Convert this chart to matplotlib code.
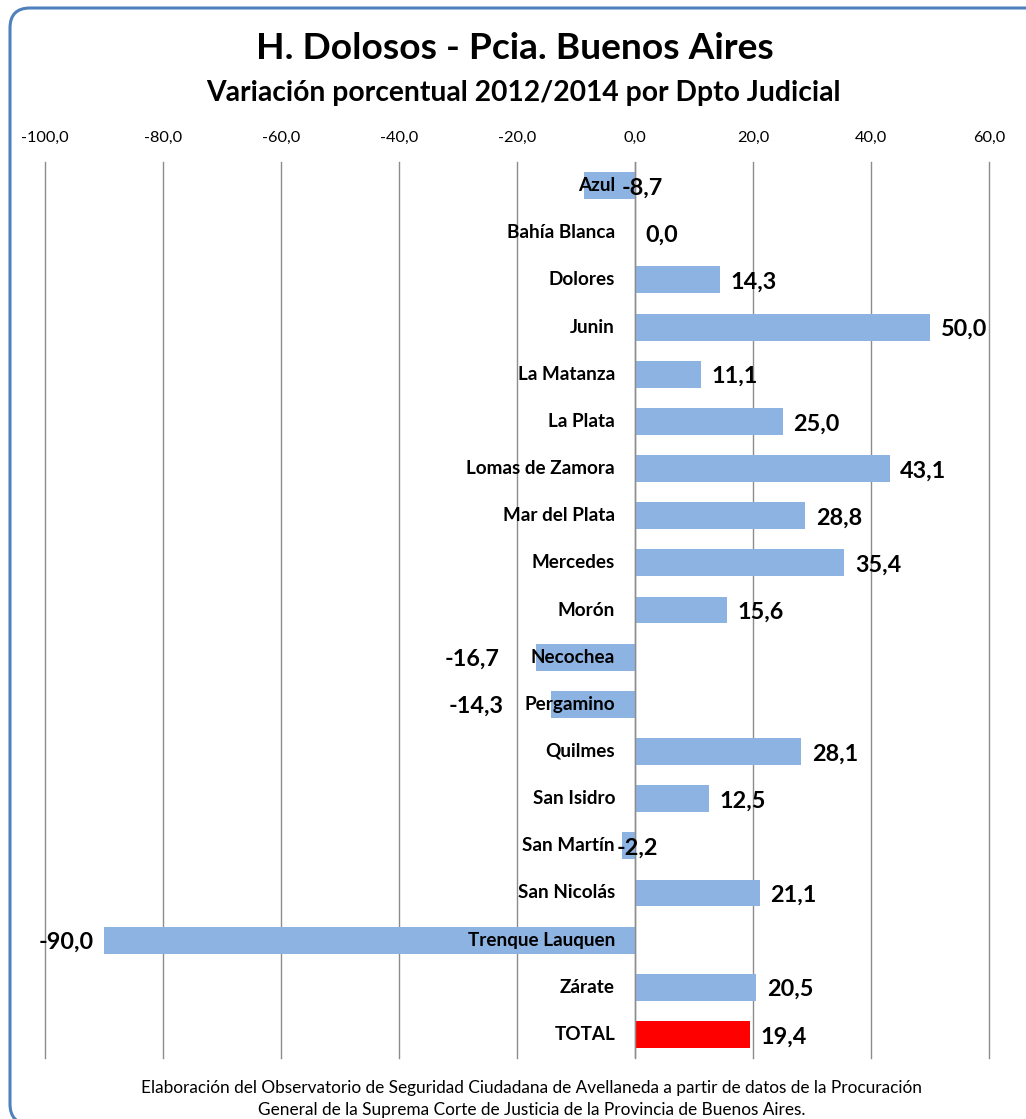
import matplotlib
matplotlib.use("Agg")
import matplotlib.pyplot as plt
from matplotlib.patches import FancyBboxPatch

# datos: variacion porcentual 2012/2014 por departamento judicial
deptos = ["Azul", "Bahía Blanca", "Dolores", "Junin", "La Matanza", "La Plata",
          "Lomas de Zamora", "Mar del Plata", "Mercedes", "Morón", "Necochea",
          "Pergamino", "Quilmes", "San Isidro", "San Martín", "San Nicolás",
          "Trenque Lauquen", "Zárate", "TOTAL"]
variacion = [-8.7, 0.0, 14.3, 50.0, 11.1, 25.0, 43.1, 28.8, 35.4, 15.6, -16.7,
             -14.3, 28.1, 12.5, -2.2, 21.1, -90.0, 20.5, 19.4]
xticks = [-100, -80, -60, -40, -20, 0, 20, 40, 60]

# ajustes manuales de etiquetas (x en unidades del eje, alineacion)
label_nudge = {"Azul": (-2.3, "left"), "San Martín": (-3.1, "left"),
               "Necochea": (-22.9, "right"), "Pergamino": (-22.2, "right")}

def fmt(v):
    return ("%.1f" % v).replace(".", ",")

plt.rcParams['font.family'] = ['Lato', 'DejaVu Sans']

fig = plt.figure(figsize=(10.26, 11.19), dpi=100)
ax = fig.add_axes([0.0434, 0.0545, 0.9210, 0.8007])

colors = ["#8DB3E2"] * (len(deptos) - 1) + ["#FF0000"]
ypos = list(range(len(deptos)))
ax.barh(ypos, variacion, height=0.57, color=colors, zorder=2)

ax.set_xlim(-100, 60)
ax.set_ylim(len(deptos) - 0.5, -0.5)
ax.set_xticks(xticks)
ax.set_xticklabels([fmt(t) for t in xticks], fontsize=11.8)
ax.xaxis.tick_top()
ax.tick_params(axis="x", length=0, pad=12)
ax.tick_params(axis="y", length=0)
ax.set_yticks([])
ax.grid(axis="x", color="#8C8C8C", linewidth=1.0, zorder=0)
for gl in ax.get_xgridlines():
    gl.set_clip_on(False)
ax.axvline(0, color="#8C8C8C", linewidth=1.0, zorder=3)
for s in ax.spines.values():
    s.set_visible(False)

for i, (name, v) in enumerate(zip(deptos, variacion)):
    # nombre del departamento junto al eje
    ax.text(-3.4, i, name, ha="right", va="center", fontsize=13.6,
            fontweight="bold", zorder=4)
    if name in label_nudge:
        lx, ha = label_nudge[name]
    elif v < 0:
        lx, ha = v - 1.7, "right"
    else:
        lx, ha = v + 1.8, "left"
    ax.text(lx, i + 0.05, fmt(v), ha=ha, va="center", fontsize=16.8,
            fontweight="bold", zorder=4)

fig.text(0.502, 0.957, "H. Dolosos - Pcia. Buenos Aires", ha="center",
         va="center", fontsize=26.7, fontweight="bold")
fig.text(0.510, 0.917, "Variación porcentual 2012/2014 por Dpto Judicial",
         ha="center", va="center", fontsize=20.3, fontweight="bold")

fig.text(0.518, 0.028, "Elaboración del Observatorio de Seguridad Ciudadana de "
         "Avellaneda a partir de datos de la Procuración", ha="center",
         va="center", fontsize=12.4)
fig.text(0.518, 0.008, "General de la Suprema Corte de Justicia de la "
         "Provincia de Buenos Aires.", ha="center", va="center", fontsize=12.4)

# marco redondeado azul
frame = FancyBboxPatch((0.10, -0.05), 10.5, 11.16, boxstyle="round,pad=0,rounding_size=0.2",
                       transform=fig.dpi_scale_trans, fill=False,
                       edgecolor="#4F81BD", linewidth=2.2, clip_on=False)
fig.patches.append(frame)

fig.savefig("out.png", dpi=100)
